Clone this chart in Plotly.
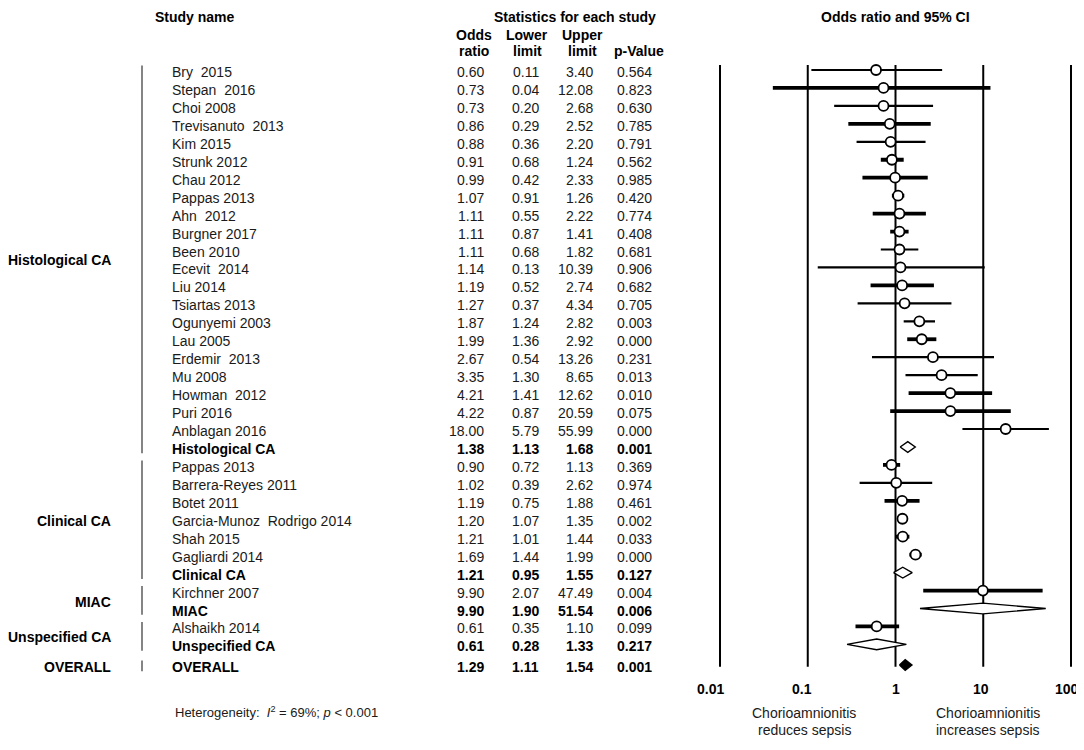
import numpy as np
import plotly.graph_objects as go

# ---- data ----
study = ["Bry  2015", "Stepan  2016", "Choi 2008", "Trevisanuto  2013", "Kim 2015",
         "Strunk 2012", "Chau 2012", "Pappas 2013", "Ahn  2012", "Burgner 2017",
         "Been 2010", "Ecevit  2014", "Liu 2014", "Tsiartas 2013", "Ogunyemi 2003",
         "Lau 2005", "Erdemir  2013", "Mu 2008", "Howman  2012", "Puri 2016",
         "Anblagan 2016", "Histological CA",
         "Pappas 2013", "Barrera-Reyes 2011", "Botet 2011", "Garcia-Munoz  Rodrigo 2014",
         "Shah 2015", "Gagliardi 2014", "Clinical CA",
         "Kirchner 2007", "MIAC",
         "Alshaikh 2014", "Unspecified CA",
         "OVERALL"]
odds = [0.60, 0.73, 0.73, 0.86, 0.88, 0.91, 0.99, 1.07, 1.11, 1.11, 1.11, 1.14, 1.19, 1.27,
        1.87, 1.99, 2.67, 3.35, 4.21, 4.22, 18.00, 1.38,
        0.90, 1.02, 1.19, 1.20, 1.21, 1.69, 1.21,
        9.90, 9.90,
        0.61, 0.61,
        1.29]
lower = [0.11, 0.04, 0.20, 0.29, 0.36, 0.68, 0.42, 0.91, 0.55, 0.87, 0.68, 0.13, 0.52, 0.37,
         1.24, 1.36, 0.54, 1.30, 1.41, 0.87, 5.79, 1.13,
         0.72, 0.39, 0.75, 1.07, 1.01, 1.44, 0.95,
         2.07, 1.90,
         0.35, 0.28,
         1.11]
upper = [3.40, 12.08, 2.68, 2.52, 2.20, 1.24, 2.33, 1.26, 2.22, 1.41, 1.82, 10.39, 2.74, 4.34,
         2.82, 2.92, 13.26, 8.65, 12.62, 20.59, 55.99, 1.68,
         1.13, 2.62, 1.88, 1.35, 1.44, 1.99, 1.55,
         47.49, 51.54,
         1.10, 1.33,
         1.54]
pval = [0.564, 0.823, 0.630, 0.785, 0.791, 0.562, 0.985, 0.420, 0.774, 0.408, 0.681, 0.906,
        0.682, 0.705, 0.003, 0.000, 0.231, 0.013, 0.010, 0.075, 0.000, 0.001,
        0.369, 0.974, 0.461, 0.002, 0.033, 0.000, 0.127,
        0.004, 0.006,
        0.099, 0.217,
        0.001]
kind = ["study"] * 21 + ["sub"] + ["study"] * 6 + ["sub"] + ["study", "sub"] + ["study", "sub"] + ["overall"]

groups = ["Histological CA", "Clinical CA", "MIAC", "Unspecified CA", "OVERALL"]
group_first = [0, 22, 29, 31, 33]
group_last = [21, 28, 30, 32, 33]

# heavier study lines (bigger weight in the original)
heavy = [0, 1, 0, 1, 0, 1, 1, 1, 1, 1, 0, 0, 1, 0, 0, 1, 0, 0, 1, 1, 0, 0,
         1, 0, 1, 1, 1, 1, 0, 1, 0, 1, 0, 0]

axis_ticks = [0.01, 0.1, 1, 10, 100]
tick_nudge = [-10, -6, 0, -2, -4]

# page is drawn with the browser's 8px body margin, so work in page pixels
OFF = 8
W, H = 1084 - OFF, 750 - OFF
FONT = "Liberation Sans, Arial, sans-serif"

# row positions (one unit per row, small gap before overall)
ypos = [i + (0.15 if k == "overall" else 0) for i, k in enumerate(kind)]
ROW0, ROWH = 70 - OFF, 17.95  # figure pixel of first row, pixels per row


def px(x):
    return (x - OFF) / W


def py(y):
    return 1 - (y - OFF) / H


fig = go.Figure()

# confidence interval lines
for hv, w in [(0, 2.2), (1, 3.8)]:
    xs, ys = [], []
    for i, k in enumerate(kind):
        if k == "study" and heavy[i] == hv:
            xs += [lower[i], upper[i], None]
            ys += [ypos[i], ypos[i], None]
    fig.add_trace(go.Scatter(x=xs, y=ys, mode="lines", line=dict(color="black", width=w),
                             hoverinfo="skip", showlegend=False))

# study points
si = [i for i, k in enumerate(kind) if k == "study"]
fig.add_trace(go.Scatter(x=[odds[i] for i in si], y=[ypos[i] for i in si], mode="markers",
                         marker=dict(symbol="circle", size=10, color="white",
                                     line=dict(color="black", width=1.8)),
                         showlegend=False))

# summary diamonds
hh = 0.3
for i, k in enumerate(kind):
    if k == "study":
        continue
    fig.add_trace(go.Scatter(
        x=[lower[i], odds[i], upper[i], odds[i], lower[i]],
        y=[ypos[i], ypos[i] - hh, ypos[i], ypos[i] + hh, ypos[i]],
        mode="lines", fill="toself",
        fillcolor="black" if k == "overall" else "white",
        line=dict(color="black", width=1.4), hoverinfo="skip", showlegend=False))

# vertical reference lines
for t, nd in zip(axis_ticks, tick_nudge):
    fig.add_shape(type="line", xref="x", yref="y", x0=t, x1=t,
                  y0=-0.28, y1=ypos[-1] + 0.1, line=dict(color="black", width=2), layer="below")
    fig.add_annotation(x=np.log10(t), xref="x", y=py(689), yref="paper", text="<b>%g</b>" % t,
                       xshift=nd, yanchor="middle", showarrow=False,
                       font=dict(size=14, color="black", family=FONT))

ann = []


def txt(x, y, s, anchor="left", bold=False, size=14, yref="y", color="#1a1a1a", yshift=-2):
    ann.append(dict(x=x, y=y, xref="paper", yref=yref, text="<b>%s</b>" % s if bold else s,
                    xanchor=anchor, yanchor="middle", showarrow=False, yshift=yshift,
                    font=dict(size=size, family=FONT, color="black" if bold else color)))


# headers (top row pushed just inside the figure so it is not clipped)
txt(px(195), py(16.5), "Study name", "center", True, yref="paper", yshift=0)
txt(px(575), py(16.5), "Statistics for each study", "center", True, yref="paper", yshift=0)
txt(px(895), py(16.5), "Odds ratio and 95% CI", "center", True, yref="paper", yshift=0)
for cx, l1, l2 in [(474, "Odds", "ratio"), (527, "Lower", "limit"), (582, "Upper", "limit")]:
    txt(px(cx), py(35), l1, "center", True, yref="paper", yshift=0)
    txt(px(cx), py(51), l2, "center", True, yref="paper", yshift=0)
txt(px(639), py(51), "p-Value", "center", True, yref="paper", yshift=0)

# table rows
for i, k in enumerate(kind):
    b = k != "study"
    name = study[i].replace("  ", " \u00a0")
    txt(px(170), ypos[i], name, "left", b)
    txt(px(486), ypos[i], "%.2f" % odds[i], "right", b)
    txt(px(541), ypos[i], "%.2f" % lower[i], "right", b)
    txt(px(595), ypos[i], "%.2f" % upper[i], "right", b)
    txt(px(654), ypos[i], "%.3f" % pval[i], "right", b)

# group labels and brackets
for g, a, b in zip(groups, group_first, group_last):
    txt(px(113), (ypos[a] + ypos[b]) / 2, g, "right", True)
    fig.add_shape(type="line", xref="paper", yref="y", x0=px(142), x1=px(142),
                  y0=ypos[a] - 0.25, y1=ypos[b] + 0.35, line=dict(color="#333", width=1.2))

txt(px(173), py(712), "Heterogeneity: \u00a0<i>I</i><sup>2</sup> = 69%; <i>p</i> &lt; 0.001",
    "left", size=13, yref="paper", yshift=0)
txt(px(804), py(713), "Chorioamnionitis", "center", yref="paper", yshift=0)
txt(px(804), py(730), "reduces sepsis", "center", yref="paper", yshift=0)
txt(px(988), py(713), "Chorioamnionitis", "center", yref="paper", yshift=0)
txt(px(988), py(730), "increases sepsis", "center", yref="paper", yshift=0)

for a in ann:
    fig.add_annotation(**a)

pad = 8.775 / 87.75
fig.update_xaxes(type="log", range=[-2 - pad, 2 + pad], domain=[px(720 - 8.775), px(1071 + 8.775)],
                 showgrid=False, zeroline=False, showticklabels=False, showline=False)
fig.update_yaxes(range=[(H - ROW0) / ROWH, -ROW0 / ROWH], domain=[0, 1],
                 showgrid=False, zeroline=False, showticklabels=False, showline=False)
fig.update_layout(width=W, height=H, margin=dict(l=0, r=0, t=0, b=0),
                  plot_bgcolor="white", paper_bgcolor="white", showlegend=False,
                  font=dict(family=FONT))

fig.write_html("out.html")
